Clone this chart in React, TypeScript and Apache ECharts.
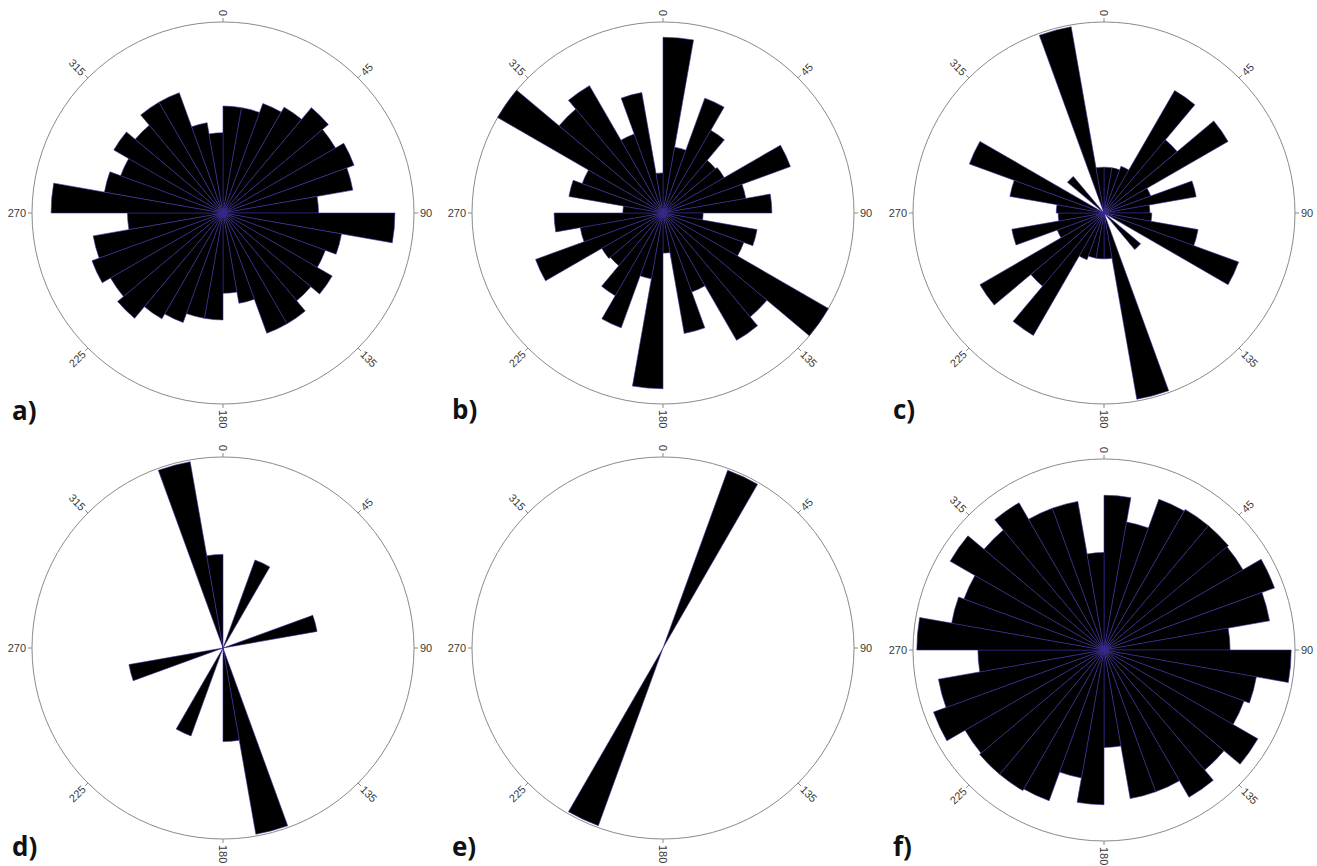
import React, { useEffect, useRef } from "react";
import * as echarts from "echarts";

// 10-degree direction bins (start of each bin, clockwise from north)
const BINS = [
  "0", "10", "20", "30", "40", "50", "60", "70", "80", "90", "100", "110",
  "120", "130", "140", "150", "160", "170", "180", "190", "200", "210", "220", "230",
  "240", "250", "260", "270", "280", "290", "300", "310", "320", "330", "340", "350",
];

// relative frequencies (% of the outer circle radius)
const roseA = [
  56, 56, 61, 64, 72, 68, 73, 69, 50, 90, 63, 57, 66, 60, 67, 67, 48, 42,
  56, 56, 61, 64, 72, 68, 73, 69, 50, 90, 63, 57, 66, 60, 67, 67, 48, 42,
];
const roseB = [
  92, 35, 64, 50, 36, 37, 71, 44, 57, 21, 50, 45, 100, 71, 77, 44, 64, 21,
  92, 35, 64, 50, 36, 37, 71, 44, 57, 21, 50, 45, 100, 71, 77, 44, 64, 21,
];
const roseC = [
  24, 24, 26, 74, 50, 75, 26, 49, 24, 25, 50, 75, 0, 25, 0, 0, 99, 24,
  24, 24, 26, 74, 50, 75, 26, 49, 24, 25, 50, 75, 0, 25, 0, 0, 99, 24,
];
const roseD = [
  0, 0, 49, 0, 0, 0, 0, 50, 0, 0, 0, 0, 0, 0, 0, 0, 99, 49,
  0, 0, 49, 0, 0, 0, 0, 50, 0, 0, 0, 0, 0, 0, 0, 0, 99, 49,
];
const roseE = [
  0, 0, 99, 0, 0, 0, 0, 0, 0, 0, 0, 0, 0, 0, 0, 0, 0, 0,
  0, 0, 99, 0, 0, 0, 0, 0, 0, 0, 0, 0, 0, 0, 0, 0, 0, 0,
];
const roseF = [
  81, 68, 84, 85, 85, 84, 95, 88, 66, 98, 81, 78, 93, 82, 89, 79, 79, 51,
  81, 68, 84, 85, 85, 84, 95, 88, 66, 98, 81, 78, 93, 82, 89, 79, 79, 51,
];

const ROSES = [roseA, roseB, roseC, roseD, roseE, roseF];
const PANEL_LABELS = ["a)", "b)", "c)", "d)", "e)", "f)"];
const TICK_ANGLES = [0, 45, 90, 135, 180, 225, 270, 315];
const TICK_LABELS = ["0", "45", "90", "135", "180", "225", "270", "315"];
const RADIUS_MAX = 100;

// layout
const W = 1317;
const H = 866;
const R = 191;
const CENTERS = [
  [223, 213],
  [663, 213],
  [1104, 213],
  [223, 648],
  [663, 648],
  [1104, 650],
];
const PANEL_POS = [
  [12, 410],
  [452, 409],
  [893, 409],
  [12, 846],
  [452, 846],
  [893, 846],
];

export default function App() {
  const ref = useRef<HTMLDivElement>(null);

  useEffect(() => {
    if (!ref.current) return;
    const chart = echarts.init(ref.current, null, { renderer: "svg" });

    const polar: any[] = [];
    const angleAxis: any[] = [];
    const radiusAxis: any[] = [];
    const series: any[] = [];
    const graphic: any[] = [];
    const hidden = {
      axisLine: { show: false },
      axisTick: { show: false },
      axisLabel: { show: false },
      splitLine: { show: false },
      splitArea: { show: false },
    };

    ROSES.forEach((vals, i) => {
      const [cx, cy] = CENTERS[i];
      // polar for the bars
      polar.push({ center: [cx, cy], radius: R });
      angleAxis.push({
        polarIndex: 2 * i,
        type: "category",
        data: BINS,
        startAngle: 90,
        clockwise: true,
        boundaryGap: true,
        ...hidden,
      });
      radiusAxis.push({
        polarIndex: 2 * i,
        type: "value",
        min: 0,
        max: RADIUS_MAX,
        ...hidden,
      });
      // polar for the outer circle and the 45-degree ticks
      polar.push({ center: [cx, cy], radius: R });
      angleAxis.push({
        polarIndex: 2 * i + 1,
        type: "value",
        min: 0,
        max: 360,
        interval: 45,
        startAngle: 90,
        clockwise: true,
        axisLine: { show: true, lineStyle: { color: "#8a8a8a", width: 1 } },
        axisTick: { show: true, length: 4, lineStyle: { color: "#8a8a8a", width: 1 } },
        axisLabel: { show: false },
        splitLine: { show: false },
        splitArea: { show: false },
      });
      radiusAxis.push({
        polarIndex: 2 * i + 1,
        type: "value",
        min: 0,
        max: 1,
        ...hidden,
      });

      series.push({
        type: "bar",
        coordinateSystem: "polar",
        polarIndex: 2 * i,
        data: vals,
        barCategoryGap: "0%",
        silent: true,
        itemStyle: { color: "#000000", borderColor: "#3b2d9e", borderWidth: 0.6 },
      });

      TICK_ANGLES.forEach((deg, k) => {
        const rad = (deg * Math.PI) / 180;
        const off = R + 6;
        const ax = cx + off * Math.sin(rad);
        const ay = cy - off * Math.cos(rad);
        const flip = deg > 180;
        const rot = flip ? 270 - deg : 90 - deg;
        graphic.push({
          type: "text",
          x: ax,
          y: ay,
          rotation: (rot * Math.PI) / 180,
          silent: true,
          style: {
            text: TICK_LABELS[k],
            x: 0,
            y: 0,
            align: flip ? "right" : "left",
            verticalAlign: "middle",
            fill: "#3a3a3a",
            fontSize: 11,
            fontFamily: "Liberation Sans, Arial, sans-serif",
          },
        });
      });

      graphic.push({
        type: "text",
        x: PANEL_POS[i][0],
        y: PANEL_POS[i][1],
        silent: true,
        style: {
          text: PANEL_LABELS[i],
          x: 0,
          y: 0,
          align: "left",
          verticalAlign: "middle",
          fill: "#111111",
          fontSize: 26,
          fontWeight: "bold",
          fontFamily: "'Open Sans', Lato, sans-serif",
        },
      });
    });

    chart.setOption({
      animation: false,
      backgroundColor: "#ffffff",
      polar,
      angleAxis,
      radiusAxis,
      series,
      graphic,
    });

    return () => {
      chart.dispose();
    };
  }, []);

  return (
    <div
      ref={ref}
      style={{ position: "absolute", left: 0, top: 0, width: W, height: H }}
    />
  );
}
